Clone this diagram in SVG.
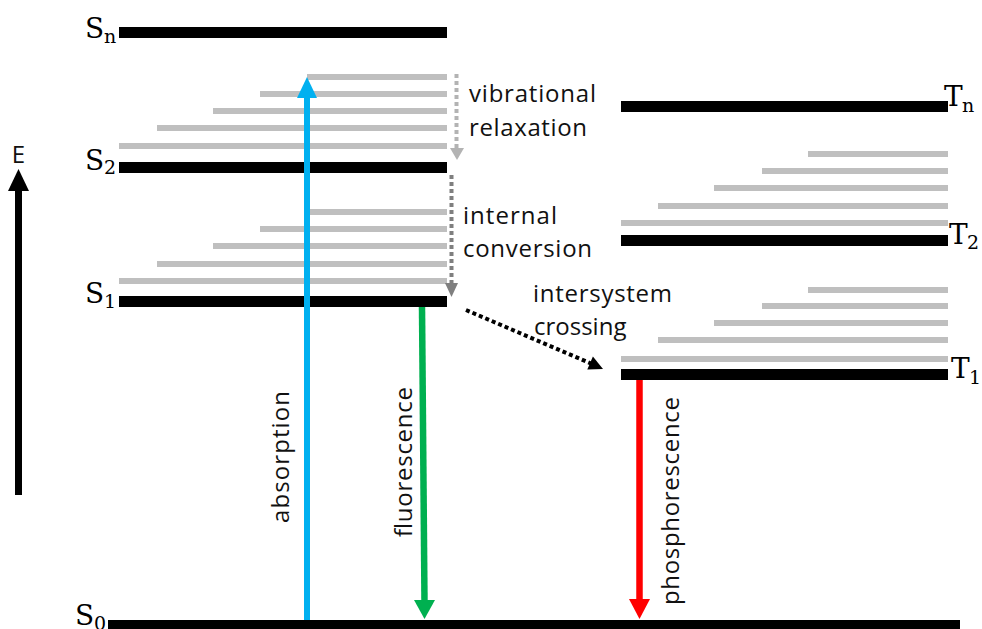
<svg xmlns="http://www.w3.org/2000/svg" width="982" height="629" viewBox="0 0 982 629">
<style>
.bar{fill:#000}
.vib{fill:#bfbfbf}
.lbl{font-family:"DejaVu Serif","Liberation Serif",serif;fill:#000}
.main{font-size:28px}
.sub{font-size:19px}
.txt{font-family:"Open Sans","Liberation Sans",sans-serif;font-size:24px;fill:#111}
</style>
<rect width="982" height="629" fill="#fff"/>

<g id="E-axis">
<line x1="18.5" y1="495" x2="18.5" y2="188" stroke="#000" stroke-width="7"/>
<polygon points="8,191 29,191 18.5,169" fill="#000"/>
<text class="txt" x="18.5" y="163" text-anchor="middle" font-size="22">E</text>
</g>

<g id="S_n">
<rect class="bar" x="119" y="27" width="328" height="11"/>
<text class="lbl main" x="85" y="38">S</text><text class="lbl sub" x="104" y="43">n</text>
</g>

<g id="S_2">
<rect class="vib" x="307" y="74" width="140" height="6"/>
<rect class="vib" x="260" y="91" width="187" height="6"/>
<rect class="vib" x="213" y="108" width="234" height="6"/>
<rect class="vib" x="157" y="125" width="290" height="6"/>
<rect class="vib" x="119" y="143" width="328" height="6"/>
<rect class="bar" x="119" y="162" width="328" height="11"/>
<text class="lbl main" x="85" y="170">S</text><text class="lbl sub" x="104" y="174">2</text>
</g>

<g id="S_1">
<rect class="vib" x="310" y="209" width="137" height="6"/>
<rect class="vib" x="260" y="226" width="187" height="6"/>
<rect class="vib" x="213" y="243" width="234" height="6"/>
<rect class="vib" x="157" y="261" width="290" height="6"/>
<rect class="vib" x="119" y="278" width="328" height="6"/>
<rect class="bar" x="119" y="296" width="328" height="11"/>
<text class="lbl main" x="85" y="303">S</text><text class="lbl sub" x="104" y="308">1</text>
</g>

<g id="S_0">
<rect class="bar" x="108" y="620" width="852" height="11"/>
<text class="lbl main" x="75" y="625">S</text><text class="lbl sub" x="94" y="630">0</text>
</g>

<g id="T_n">
<rect class="bar" x="621" y="101" width="327" height="11"/>
<text class="lbl main" x="944" y="106">T</text><text class="lbl sub" x="962" y="112">n</text>
</g>

<g id="T_2">
<rect class="vib" x="808" y="151" width="140" height="6"/>
<rect class="vib" x="762" y="168" width="186" height="6"/>
<rect class="vib" x="714" y="185" width="234" height="6"/>
<rect class="vib" x="658" y="203" width="290" height="6"/>
<rect class="vib" x="621" y="220" width="327" height="6"/>
<rect class="bar" x="621" y="235" width="327" height="11"/>
<text class="lbl main" x="949" y="244">T</text><text class="lbl sub" x="967" y="249">2</text>
</g>

<g id="T_1">
<rect class="vib" x="808" y="287" width="140" height="6"/>
<rect class="vib" x="762" y="303" width="186" height="6"/>
<rect class="vib" x="714" y="320" width="234" height="6"/>
<rect class="vib" x="658" y="337" width="290" height="6"/>
<rect class="vib" x="621" y="356" width="327" height="6"/>
<rect class="bar" x="621" y="369" width="327" height="11"/>
<text class="lbl main" x="951" y="378">T</text><text class="lbl sub" x="969" y="384">1</text>
</g>

<g id="connectors">
<g id="absorption">
<line x1="307" y1="620" x2="307" y2="96" stroke="#00b0f0" stroke-width="6"/>
<polygon points="297,98 317,98 307,77" fill="#00b0f0"/>
<text class="txt" transform="translate(289,523) rotate(-90)" textLength="132">absorption</text>
</g>
<g id="fluorescence">
<line x1="422" y1="307" x2="424.5" y2="602" stroke="#00b050" stroke-width="6.5"/>
<polygon points="414,600 435,600 424.5,619" fill="#00b050"/>
<text class="txt" transform="translate(412,537) rotate(-90)" textLength="150">fluorescence</text>
</g>
<g id="phosphorescence">
<line x1="639.5" y1="380" x2="639.5" y2="601" stroke="#ff0000" stroke-width="6.5"/>
<polygon points="629,599 650,599 639.5,619" fill="#ff0000"/>
<text class="txt" transform="translate(679,605) rotate(-90)" textLength="208">phosphorescence</text>
</g>
<g id="vibrational-relaxation">
<line x1="456.5" y1="74" x2="456.5" y2="148" stroke="#b3b3b3" stroke-width="4" stroke-dasharray="4 3"/>
<polygon points="450,148 464,148 457,160" fill="#b3b3b3"/>
<text class="txt" x="469" y="102" textLength="127">vibrational</text>
<text class="txt" x="469" y="136" textLength="118">relaxation</text>
</g>
<g id="internal-conversion">
<line x1="451.5" y1="175" x2="451.5" y2="284" stroke="#7f7f7f" stroke-width="4" stroke-dasharray="4 3"/>
<polygon points="445,283 458,283 451.5,297" fill="#7f7f7f"/>
<text class="txt" x="463" y="224" textLength="94">internal</text>
<text class="txt" x="463" y="257" textLength="129">conversion</text>
</g>
<g id="intersystem-crossing">
<line x1="466" y1="310" x2="591" y2="363.5" stroke="#000" stroke-width="4" stroke-dasharray="4 3"/>
<polygon points="603,369 592.9,356.6 587.3,369.4" fill="#000"/>
<text class="txt" x="533" y="302" textLength="139">intersystem</text>
<text class="txt" x="534" y="335">crossing</text>
</g>
</g>
</svg>
